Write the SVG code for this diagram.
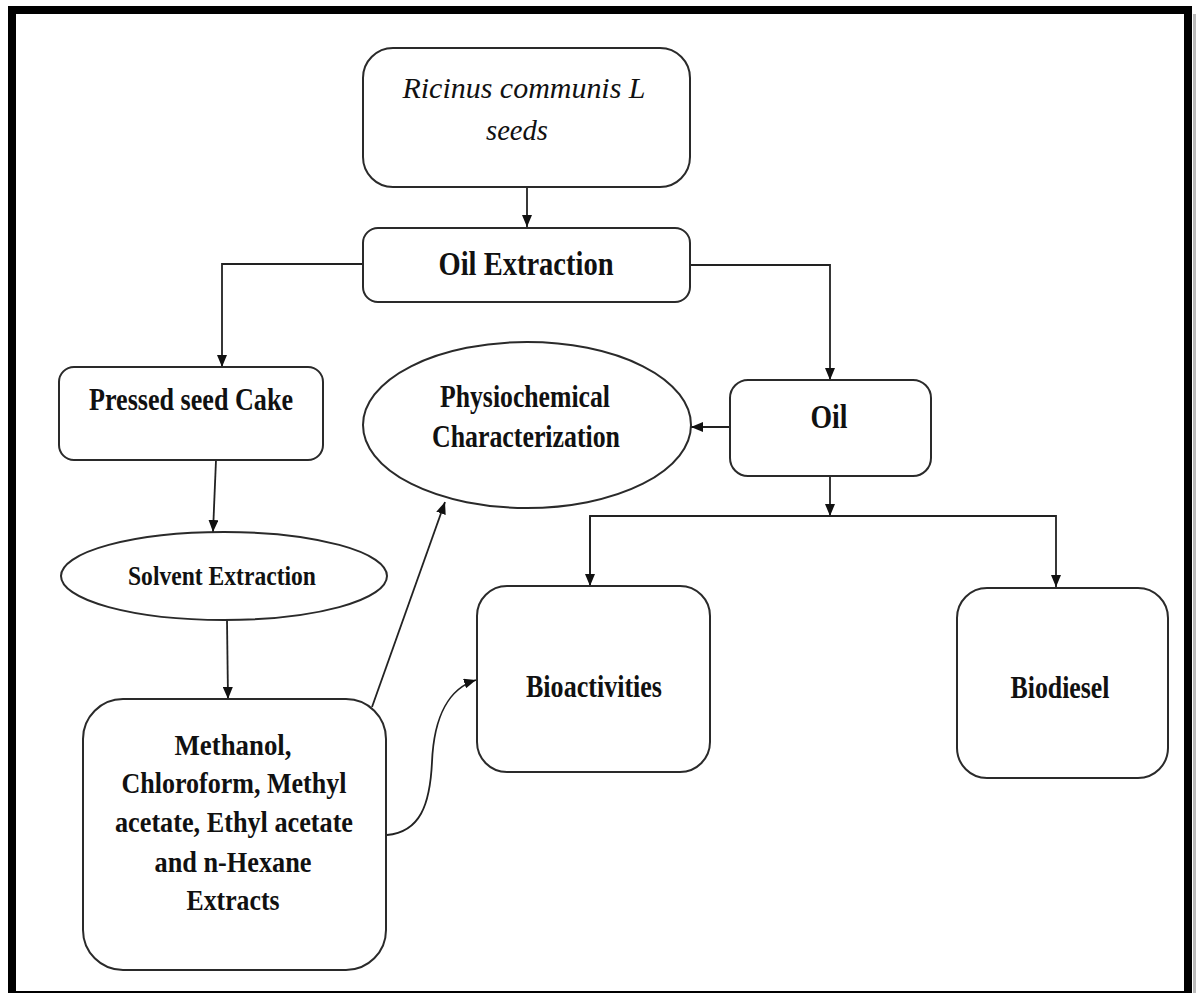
<svg xmlns="http://www.w3.org/2000/svg" width="1198" height="993" viewBox="0 0 1198 993">
<style>
.node{fill:#fff;stroke:#2a2a2a;stroke-width:2}
.t{font-family:"Liberation Serif","Times New Roman",serif;font-weight:bold;font-size:31px;fill:#111;text-anchor:middle}
.it{font-family:"Liberation Serif","Times New Roman",serif;font-style:italic;font-size:30px;fill:#111;text-anchor:middle}
.c{fill:none;stroke:#222;stroke-width:1.8}
</style>
<defs>
<marker id="ah" viewBox="0 0 12 10" refX="12" refY="5" markerWidth="12" markerHeight="10" markerUnits="userSpaceOnUse" orient="auto">
<path d="M0,0 L12,5 L0,10 Z" fill="#111"/>
</marker>
</defs>
<rect x="0" y="0" width="1198" height="993" fill="#fff"/>
<line x1="1194.5" y1="14" x2="1194.5" y2="993" stroke="#bbb" stroke-width="3"/>
<rect x="12" y="10" width="1176" height="985" fill="none" stroke="#000" stroke-width="8"/>

<g id="connectors">
<path class="c" d="M527,187 V227" marker-end="url(#ah)"/>
<path class="c" d="M363,264 H222 V367" marker-end="url(#ah)"/>
<path class="c" d="M690,265 H830 V380" marker-end="url(#ah)"/>
<path class="c" d="M730,427 H691" marker-end="url(#ah)"/>
<path class="c" d="M830,476 V516" marker-end="url(#ah)"/>
<path class="c" d="M590,586 V516 H1056 V587" marker-end="url(#ah)"/>
<path class="c" d="M590,516 V586" marker-end="url(#ah)"/>
<path class="c" d="M216,460 L213,532" marker-end="url(#ah)"/>
<path class="c" d="M227,620 L228,699" marker-end="url(#ah)"/>
<path class="c" d="M372,707 L445,502" marker-end="url(#ah)"/>
<path class="c" d="M387,835 C420,832 430,805 432,762 C434,715 450,688 476,680" marker-end="url(#ah)"/>
</g>

<g id="seeds">
<rect class="node" x="363" y="48" width="327" height="139" rx="30"/>
<text class="it" x="524" y="98" textLength="243" lengthAdjust="spacingAndGlyphs">Ricinus communis L</text>
<text class="it" x="517" y="140" textLength="62" lengthAdjust="spacingAndGlyphs">seeds</text>
</g>
<g id="oil-extraction">
<rect class="node" x="363" y="228" width="327" height="74" rx="15"/>
<text class="t" x="526" y="275" style="font-size:33px" textLength="175" lengthAdjust="spacingAndGlyphs">Oil Extraction</text>
</g>
<g id="pressed-cake">
<rect class="node" x="59" y="367" width="264" height="93" rx="15"/>
<text class="t" x="191" y="410" textLength="204" lengthAdjust="spacingAndGlyphs">Pressed seed Cake</text>
</g>
<g id="physio">
<ellipse class="node" cx="527" cy="425" rx="164" ry="83"/>
<text class="t" x="525" y="407" textLength="170" lengthAdjust="spacingAndGlyphs">Physiochemical</text>
<text class="t" x="526" y="447" textLength="188" lengthAdjust="spacingAndGlyphs">Characterization</text>
</g>
<g id="oil">
<rect class="node" x="730" y="380" width="201" height="96" rx="18"/>
<text class="t" x="829" y="428" style="font-size:33px" textLength="37" lengthAdjust="spacingAndGlyphs">Oil</text>
</g>
<g id="solvent">
<ellipse class="node" cx="224" cy="576" rx="163" ry="44"/>
<text class="t" x="222" y="585" style="font-size:28px" textLength="188" lengthAdjust="spacingAndGlyphs">Solvent Extraction</text>
</g>
<g id="bioactivities">
<rect class="node" x="477" y="586" width="233" height="186" rx="30"/>
<text class="t" x="594" y="697" textLength="136" lengthAdjust="spacingAndGlyphs">Bioactivities</text>
</g>
<g id="biodiesel">
<rect class="node" x="957" y="588" width="211" height="190" rx="30"/>
<text class="t" x="1060" y="698" textLength="99" lengthAdjust="spacingAndGlyphs">Biodiesel</text>
</g>
<g id="extracts">
<rect class="node" x="83" y="699" width="303" height="271" rx="40"/>
<text class="t" x="233" y="755" style="font-size:30px" textLength="117" lengthAdjust="spacingAndGlyphs">Methanol,</text>
<text class="t" x="234" y="793" style="font-size:30px" textLength="225" lengthAdjust="spacingAndGlyphs">Chloroform, Methyl</text>
<text class="t" x="234" y="832" style="font-size:30px" textLength="238" lengthAdjust="spacingAndGlyphs">acetate, Ethyl acetate</text>
<text class="t" x="233" y="872" style="font-size:30px" textLength="157" lengthAdjust="spacingAndGlyphs">and n-Hexane</text>
<text class="t" x="233" y="910" style="font-size:30px" textLength="93" lengthAdjust="spacingAndGlyphs">Extracts</text>
</g>
</svg>
